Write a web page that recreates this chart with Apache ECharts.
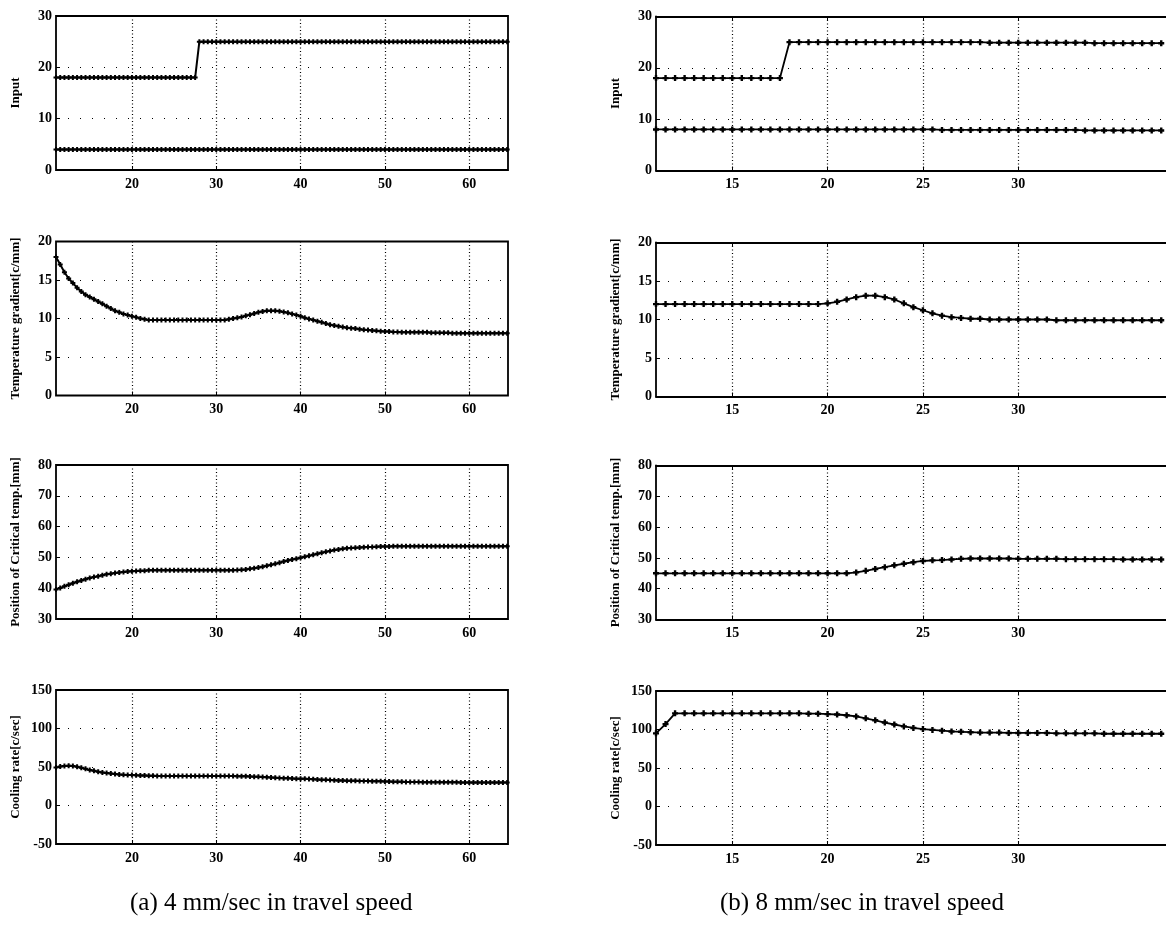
<!DOCTYPE html>
<html>
<head>
<meta charset="utf-8">
<script src="https://cdn.jsdelivr.net/npm/echarts@6/dist/echarts.min.js"></script>
<style>
html,body{margin:0;padding:0;background:#fff;}
#chart{width:1166px;height:943px;}
</style>
</head>
<body>
<div id="chart"></div>
<script>
// ---------- DATA ----------
// (a) 4 mm/sec : sample positions
const xA = [
  11,11.5,12,12.5,13,13.5,14,14.5,15,15.5,
  16,16.5,17,17.5,18,18.5,19,19.5,20,20.5,
  21,21.5,22,22.5,23,23.5,24,24.5,25,25.5,
  26,26.5,27,27.5,28,28.5,29,29.5,30,30.5,
  31,31.5,32,32.5,33,33.5,34,34.5,35,35.5,
  36,36.5,37,37.5,38,38.5,39,39.5,40,40.5,
  41,41.5,42,42.5,43,43.5,44,44.5,45,45.5,
  46,46.5,47,47.5,48,48.5,49,49.5,50,50.5,
  51,51.5,52,52.5,53,53.5,54,54.5,55,55.5,
  56,56.5,57,57.5,58,58.5,59,59.5,60,60.5,
  61,61.5,62,62.5,63,63.5,64,64.5
];
const inputUpperA = [
  18,18,18,18,18,18,18,18,18,18,
  18,18,18,18,18,18,18,18,18,18,
  18,18,18,18,18,18,18,18,18,18,
  18,18,18,18,25,25,25,25,25,25,
  25,25,25,25,25,25,25,25,25,25,
  25,25,25,25,25,25,25,25,25,25,
  25,25,25,25,25,25,25,25,25,25,
  25,25,25,25,25,25,25,25,25,25,
  25,25,25,25,25,25,25,25,25,25,
  25,25,25,25,25,25,25,25,25,25,
  25,25,25,25,25,25,25,25
];
const inputLowerA = [
  4,4,4,4,4,4,4,4,4,4,
  4,4,4,4,4,4,4,4,4,4,
  4,4,4,4,4,4,4,4,4,4,
  4,4,4,4,4,4,4,4,4,4,
  4,4,4,4,4,4,4,4,4,4,
  4,4,4,4,4,4,4,4,4,4,
  4,4,4,4,4,4,4,4,4,4,
  4,4,4,4,4,4,4,4,4,4,
  4,4,4,4,4,4,4,4,4,4,
  4,4,4,4,4,4,4,4,4,4,
  4,4,4,4,4,4,4,4
];
const tempGradA = [
  18.0,17.0,16.0,15.2,14.6,14.0,13.5,13.1,12.8,12.5,
  12.2,11.9,11.6,11.3,11.0,10.8,10.6,10.45,10.3,10.15,
  10.0,9.9,9.8,9.8,9.8,9.8,9.8,9.8,9.8,9.8,
  9.8,9.8,9.8,9.8,9.8,9.8,9.8,9.8,9.8,9.8,
  9.8,9.9,10.0,10.1,10.2,10.35,10.5,10.65,10.8,10.9,
  11.0,11.0,11.0,10.95,10.85,10.75,10.6,10.45,10.3,10.1,
  9.95,9.8,9.65,9.5,9.35,9.2,9.1,9.0,8.9,8.8,
  8.75,8.7,8.6,8.55,8.5,8.45,8.4,8.35,8.3,8.3,
  8.25,8.25,8.2,8.2,8.2,8.2,8.2,8.2,8.2,8.15,
  8.15,8.15,8.15,8.15,8.1,8.1,8.1,8.1,8.1,8.1,
  8.1,8.1,8.1,8.1,8.1,8.1,8.1,8.1
];
const critPosA = [
  39.6,40.1,40.6,41.1,41.6,42.1,42.5,42.9,43.3,43.6,
  43.9,44.2,44.5,44.7,44.9,45.1,45.3,45.4,45.5,45.6,
  45.7,45.7,45.8,45.8,45.8,45.8,45.8,45.8,45.8,45.8,
  45.8,45.8,45.8,45.8,45.8,45.8,45.8,45.8,45.8,45.8,
  45.8,45.8,45.8,45.9,46.0,46.1,46.3,46.5,46.7,47.0,
  47.3,47.6,47.9,48.3,48.7,49.0,49.3,49.6,49.9,50.2,
  50.5,50.9,51.2,51.5,51.8,52.1,52.4,52.6,52.8,52.95,
  53.05,53.15,53.2,53.3,53.35,53.4,53.45,53.5,53.5,53.55,
  53.6,53.6,53.6,53.6,53.6,53.6,53.6,53.6,53.6,53.6,
  53.6,53.6,53.6,53.6,53.6,53.6,53.6,53.6,53.6,53.6,
  53.6,53.6,53.6,53.6,53.6,53.6,53.6,53.6
];
const coolRateA = [
  49.5,50.5,51.2,51.5,51.2,50.3,49.0,47.6,46.2,45.0,
  43.9,43.0,42.2,41.5,40.9,40.4,40.0,39.7,39.5,39.2,
  39.0,38.8,38.6,38.5,38.4,38.3,38.3,38.2,38.2,38.2,
  38.2,38.2,38.2,38.2,38.2,38.2,38.2,38.2,38.2,38.2,
  38.2,38.2,38.2,38.1,38.1,38.0,37.8,37.5,37.2,36.9,
  36.6,36.3,36.0,35.7,35.5,35.3,35.1,34.9,34.8,34.6,
  34.4,34.2,33.9,33.6,33.3,33.0,32.8,32.6,32.4,32.2,
  32.1,32.0,31.9,31.8,31.7,31.6,31.5,31.4,31.3,31.1,
  30.9,30.8,30.7,30.6,30.5,30.4,30.4,30.3,30.3,30.2,
  30.2,30.2,30.1,30.1,30.1,30.1,30.0,30.0,30.0,30.0,
  30.0,30.0,30.0,30.0,30.0,30.0,30.0,30.0
];

// (b) 8 mm/sec : sample positions
const xB = [
  11,11.5,12,12.5,13,13.5,14,14.5,15,15.5,
  16,16.5,17,17.5,18,18.5,19,19.5,20,20.5,
  21,21.5,22,22.5,23,23.5,24,24.5,25,25.5,
  26,26.5,27,27.5,28,28.5,29,29.5,30,30.5,
  31,31.5,32,32.5,33,33.5,34,34.5,35,35.5,
  36,36.5,37,37.5
];
const inputUpperB = [
  18,18,18,18,18,18,18,18,18,18,
  18,18,18,18,25,25,25,25,25,25,
  25,25,25,25,25,25,25,25,25,25,
  25,25,25,25,25,24.9,24.9,24.9,24.9,24.9,
  24.9,24.9,24.9,24.9,24.9,24.9,24.8,24.8,24.8,24.8,
  24.8,24.8,24.8,24.8
];
const inputLowerB = [
  8,8,8,8,8,8,8,8,8,8,
  8,8,8,8,8,8,8,8,8,8,
  8,8,8,8,8,8,8,8,8,8,
  7.9,7.9,7.9,7.9,7.9,7.9,7.9,7.9,7.9,7.9,
  7.9,7.9,7.9,7.9,7.9,7.8,7.8,7.8,7.8,7.8,
  7.8,7.8,7.8,7.8
];
const tempGradB = [
  12.0,12.0,12.0,12.0,12.0,12.0,12.0,12.0,12.0,12.0,
  12.0,12.0,12.0,12.0,12.0,12.0,12.0,12.0,12.1,12.3,
  12.6,12.9,13.1,13.1,12.9,12.6,12.1,11.6,11.2,10.8,
  10.5,10.3,10.2,10.1,10.1,10.0,10.0,10.0,10.0,10.0,
  10.0,10.0,9.9,9.9,9.9,9.9,9.9,9.9,9.9,9.9,
  9.9,9.9,9.9,9.9
];
const critPosB = [
  45,45,45,45,45,45,45,45,45,45,
  45,45,45,45,45,45,45,45,45,45,
  45.0,45.3,45.8,46.4,47.0,47.6,48.1,48.6,49.0,49.2,
  49.3,49.5,49.7,49.8,49.8,49.8,49.8,49.8,49.7,49.7,
  49.7,49.7,49.7,49.6,49.6,49.6,49.6,49.6,49.6,49.5,
  49.5,49.5,49.5,49.5
];
const coolRateB = [
  95,107,121,121,121,121,121,121,121,121,
  121,121,121,121,121,121,120.5,120.5,120,119.5,
  118.5,117,114.5,112,109,106.5,104,102,100.5,99.5,
  98.5,97.5,97,96.5,96,96,96,95.5,95.5,95.5,
  95.5,95.5,95,95,95,95,95,94.5,94.5,94.5,
  94.5,94.5,94.5,94.5
];

// axis settings (values only)
const xTicksA = [20,30,40,50,60];
const xTicksB = [15,20,25,30];
const xRangeA = [11, 64.6];
const xRangeB = [11, 37.75];
const yRanges = [[0,30,10],[0,20,5],[30,80,10],[-50,150,50]];
const yNames = ['Input','Temperature gradient[c/mm]','Position of Critical temp.[mm]','Cooling rate[c/sec]'];
const captions = ['(a) 4 mm/sec in travel speed','(b) 8 mm/sec in travel speed'];

// ---------- CHART ----------
const FONT = '"Liberation Serif", "Times New Roman", serif';
const plus = 'path://M3,0h4v3h3v4h-3v3h-4v-3h-3v-4h3z';
const FRAME = {color: '#000', width: 1.8};

const topsA = [16, 241.5, 465, 690];
const topsB = [16.5, 242.5, 465.5, 691];
const grids = [], xAxes = [], yAxes = [], series = [];

const colA = [[inputUpperA, inputLowerA],[tempGradA],[critPosA],[coolRateA]];
const colB = [[inputUpperB, inputLowerB],[tempGradB],[critPosB],[coolRateB]];

function addPanel(row, xs, lines, ticks, xr, top, left, width, symSize, lw, openRight) {
  const g = grids.length;
  grids.push({left: left, top: top, width: width, height: 154, show: !openRight,
    borderColor: '#000', borderWidth: 1.8, backgroundColor: 'transparent'});
  const xi = xAxes.length;
  xAxes.push({type: 'value', gridIndex: g, min: xr[0], max: xr[1],
    axisLine: {show: openRight, onZero: false, lineStyle: FRAME},
    axisTick: {show: true, inside: true, length: 4, customValues: ticks, lineStyle: {color: '#000'}},
    axisLabel: {show: true, customValues: ticks, color: '#000', fontFamily: FONT,
      fontWeight: 'bold', fontSize: 14, margin: 7},
    splitLine: {show: true, lineStyle: {color: '#000', width: 1.2, type: [1, 2.5]}}
  });
  if (openRight) {
    // top frame line of the open-ended panel
    xAxes.push({type: 'value', gridIndex: g, position: 'top', min: xr[0], max: xr[1],
      axisLine: {show: true, onZero: false, lineStyle: FRAME},
      axisTick: {show: true, inside: true, length: 4, customValues: ticks, lineStyle: {color: '#000'}},
      axisLabel: {show: false}, splitLine: {show: false}
    });
  }
  const yr = yRanges[row];
  const yi = yAxes.length;
  yAxes.push({type: 'value', gridIndex: g, min: yr[0], max: yr[1], interval: yr[2],
    name: yNames[row], nameLocation: 'middle', nameGap: 34, nameRotate: 90,
    nameTextStyle: {color: '#000', fontFamily: FONT, fontWeight: 'bold', fontSize: 13},
    axisLine: {show: openRight, onZero: false, lineStyle: FRAME},
    axisTick: {show: true, inside: true, length: 4, lineStyle: {color: '#000'}},
    axisLabel: {color: '#000', fontFamily: FONT, fontWeight: 'bold', fontSize: 14, margin: 4},
    splitLine: {show: true, lineStyle: {color: '#000', width: 1.2, type: [1, 11]}}
  });
  lines.forEach(function (vals) {
    series.push({type: 'line', xAxisIndex: xi, yAxisIndex: yi,
      data: xs.map(function (x, i) { return [x, vals[i]]; }),
      symbol: plus, symbolSize: symSize, showAllSymbol: true,
      lineStyle: {color: '#000', width: lw},
      itemStyle: {color: '#000'},
      animation: false, silent: true, z: 5
    });
  });
}

for (let r = 0; r < 4; r++) {
  addPanel(r, xA, colA[r], xTicksA, xRangeA, topsA[r], 56, 452, 5, 2, false);
  addPanel(r, xB, colB[r], xTicksB, xRangeB, topsB[r], 656, 510, 6, 1.8, true);
}

const chart = echarts.init(document.getElementById('chart'), null, {renderer: 'canvas'});
chart.setOption({
  animation: false,
  backgroundColor: '#fff',
  grid: grids,
  xAxis: xAxes,
  yAxis: yAxes,
  series: series,
  graphic: [
    {type: 'text', left: 130, top: 891, style: {text: captions[0], fill: '#000',
      font: '25px ' + FONT}},
    {type: 'text', left: 720, top: 891, style: {text: captions[1], fill: '#000',
      font: '25px ' + FONT}}
  ]
});
</script>
</body>
</html>
